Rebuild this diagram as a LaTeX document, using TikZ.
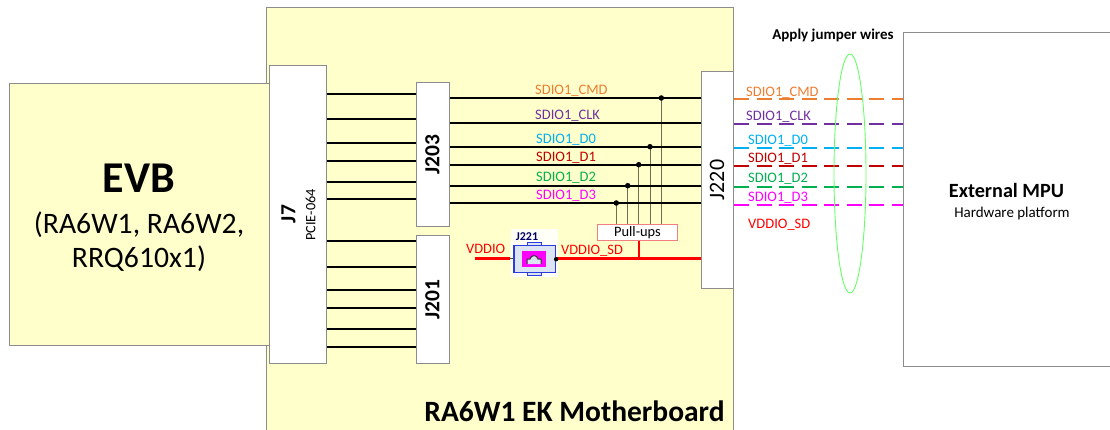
\documentclass[tikz,border=0pt]{standalone}
\usepackage{fontspec}
\setmainfont{Carlito}
\usetikzlibrary{positioning}
\definecolor{boardyellow}{HTML}{FFFFCC}
\definecolor{boxgray}{HTML}{8C8C8C}
\definecolor{sigorange}{HTML}{ED7D31}
\definecolor{sigpurple}{HTML}{7030A0}
\definecolor{sigcyan}{HTML}{00B0F0}
\definecolor{sigred}{HTML}{C00000}
\definecolor{siggreen}{HTML}{00B050}
\definecolor{sigmagenta}{HTML}{FF00FF}
\definecolor{jumpergreen}{HTML}{66FF66}
\definecolor{pullred}{HTML}{F08080}
\definecolor{pullstem}{HTML}{6E6E50}
\definecolor{iconblue}{HTML}{2A3CE0}
\definecolor{iconfill}{HTML}{DCE4F4}
\tikzset{
  board/.style={draw=boxgray, fill=boardyellow, line width=1pt, inner sep=0pt},
  conn/.style={draw=boxgray, fill=white, line width=1pt, inner sep=0pt},
  trace/.style={draw=black, line width=2pt},
  jumper/.style={line width=2pt, dash pattern=on 15pt off 7.5pt},
  stem/.style={draw=pullstem, line width=1pt},
  dot/.style={circle, fill=black, inner sep=0pt, minimum size=5.5pt},
  power/.style={draw=red, line width=3pt},
  siglabel/.style={font=\fontsize{14.5}{15}\selectfont, inner sep=0pt, anchor=west}
}
\begin{document}
\begin{tikzpicture}[x=1pt,y=-1pt]
  \clip (0,0) rectangle (1110,430);
  % boards
  \node[board, minimum width=467.5pt, minimum height=440pt] (MB) at (500,228) {};
  \node[board, minimum width=260pt, minimum height=261pt] (EVB) at (139,214.5) {};
  \node[conn, minimum width=207pt, minimum height=333pt] (MPU) at (1006.5,199.5) {};
  % connectors
  \node[conn, minimum width=56.5pt, minimum height=297pt] (J7) at (298,214.5) {};
  \node[conn, minimum width=33pt, minimum height=144pt] (J203) at (432.5,155) {};
  \node[conn, minimum width=33pt, minimum height=127pt] (J201) at (432.5,299.5) {};
  \node[conn, minimum width=32.5pt, minimum height=216pt] (J220) at (717.5,180) {};
  % connector names
  \node[rotate=90, font=\fontsize{21.5}{22}\bfseries\selectfont] (J7name) at (288.5,214) {J7};
  \node[rotate=90, font=\fontsize{14.3}{15}\selectfont] (J7type) at (310.5,215) {PCIE-064};
  \node[rotate=90, font=\fontsize{21.5}{22}\bfseries\selectfont] (J203name) at (432.5,155) {J203};
  \node[rotate=90, font=\fontsize{21.5}{22}\bfseries\selectfont] (J201name) at (432.5,300) {J201};
  \node[rotate=90, font=\fontsize{22}{22}\selectfont] (J220name) at (717,180) {J220};
  % J7 to J203 and J201
  \foreach \y in {94,119,143,161,182,199}{
    \draw[trace] (J7.east |- 0,\y) -- (J203.west |- 0,\y);
  }
  \foreach \y in {241,267,290,308,329,346.5}{
    \draw[trace] (J7.east |- 0,\y) -- (J201.west |- 0,\y);
  }
  % pull-ups
  \foreach \x/\y in {661.3/98,650/146.7,638.7/164.7,627.7/185.7,616.3/203}{
    \draw[stem] (\x,\y) -- (\x,224);
  }
  % J203 to J220 and the jumper wires
  \foreach \y/\yj/\col in {98/99.5/sigorange,122.7/124.5/sigpurple,146.7/148/sigcyan,164.7/166/sigred,185.7/187/siggreen,203/205/sigmagenta}{
    \draw[trace] (J203.east |- 0,\y) -- (J220.west |- 0,\y);
    \draw[jumper, draw=\col] (J220.east |- 0,\yj) -- (MPU.west |- 0,\yj);
  }
  \foreach \x/\y in {661.3/98,650/146.7,638.7/164.7,627.7/185.7,616.3/203}{
    \node[dot] at (\x,\y) {};
  }
  \node[draw=pullred, fill=white, line width=1pt, inner sep=0pt, minimum width=80.5pt, minimum height=16.5pt, font=\fontsize{14.4}{15}\selectfont] (PULL) at (637.5,232.5) {Pull-ups};
  % signal names
  \foreach \x/\y/\col/\txt in {535/90.7/sigorange/CMD,535/115.7/sigpurple/CLK,536/139.7/sigcyan/D0,536/158/sigred/D1,536/178/siggreen/D2,536/196/sigmagenta/D3,
      746/92.7/sigorange/CMD,746/117/sigpurple/CLK,748/140.7/sigcyan/D0,748/158.7/sigred/D1,748/179/siggreen/D2,748/197.7/sigmagenta/D3}{
    \node[siglabel, text=\col] at (\x,\y) {SDIO1\_\txt};
  }
  \node[siglabel, text=red] (SDright) at (748,224.5) {VDDIO\_SD};
  % J221 jumper
  \node[fill=white!85!boardyellow, inner sep=0pt, minimum width=47pt, minimum height=48pt] (J221bg) at (534,253) {};
  \draw[power] (475,258.7) -- (510,258.7);
  \draw[line width=1pt, black!70] (510,258.7) -- (514,258.7);
  \draw[power] (556,258.7) -- (J220.west |- 0,258.7);
  \draw[draw=red, line width=2pt] (PULL.south -| 638.7,0) -- (638.7,258.7);
  \draw[draw=iconblue, fill=iconfill, line width=1pt] (527.7,243) rectangle (541,247);
  \draw[draw=iconblue, fill=iconfill, line width=1pt] (527.7,271) rectangle (541,275);
  \node[draw=iconblue, fill=iconfill, line width=1.2pt, inner sep=0pt, minimum width=41.5pt, minimum height=27pt] (J221) at (534.8,259.2) {};
  \node[fill=sigmagenta, inner sep=0pt, minimum width=24pt, minimum height=15.5pt] (J221pin) at (534,258.9) {};
  \fill[iconfill] (527,264) -- (527,259) -- (530,259) .. controls (531,254.5) and (537,254.5) .. (538,259) -- (541,259) -- (541,264) -- cycle;
  \draw[black!80, line width=1pt] (527,264) -- (527,259) -- (530,259) .. controls (531,254.5) and (537,254.5) .. (538,259) -- (541,259) -- (541,264);
  \fill[black] (J221.east) circle (2.2pt);
  \node[font=\fontsize{12}{12}\bfseries\selectfont, text=blue!40!black, inner sep=0pt] (J221name) at (527,236.5) {J221};
  \node[font=\fontsize{14.4}{15}\selectfont, text=red, inner sep=0pt, anchor=west] (VDDIO) at (466,249) {VDDIO};
  \node[font=\fontsize{14.4}{15}\selectfont, text=red, inner sep=0pt, anchor=west] (SDleft) at (561,250.5) {VDDIO\_SD};
  % jumper ellipse
  \draw[jumpergreen, line width=0.9pt] (850,173.5) ellipse (16 and 119.5);
  % big labels
  \node[font=\bfseries\fontsize{15}{16}\selectfont] (APPLY) at (833,35.5) {Apply jumper wires};
  \node[font=\bfseries\fontsize{44}{44}\selectfont] (EVBname) at (139,178) {EVB};
  \node[font=\fontsize{29.7}{34}\selectfont, align=center] (EVBparts) at (139,242) {(RA6W1, RA6W2,\\RRQ610x1)};
  \node[font=\bfseries\fontsize{20.2}{21}\selectfont] (MPUname) at (1006.5,190.5) {External MPU};
  \node[font=\fontsize{15}{16}\selectfont] (MPUtype) at (1012,213.5) {Hardware platform};
  \node[font=\bfseries\fontsize{29.5}{30}\selectfont] (MBname) at (574.5,411) {RA6W1 EK Motherboard};
\end{tikzpicture}
\end{document}
